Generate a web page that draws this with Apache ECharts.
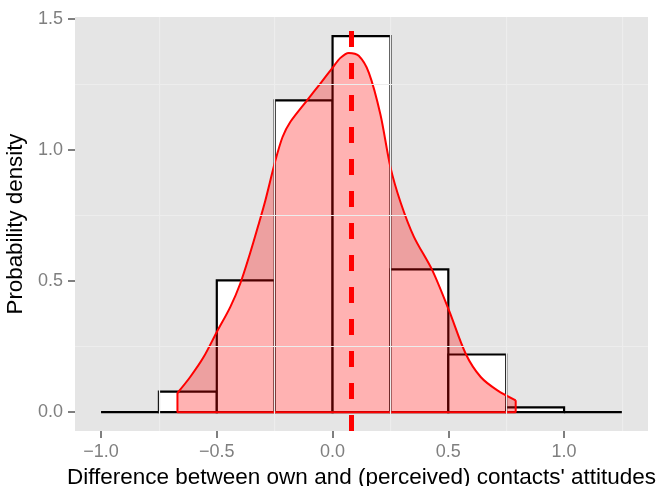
<!DOCTYPE html>
<html>
<head>
<meta charset="utf-8">
<script src="https://cdn.jsdelivr.net/npm/echarts@6/dist/echarts.min.js"></script>
<style>html,body{margin:0;padding:0;background:#fff}#c{width:659px;height:486px}</style>
</head>
<body>
<div id="c"></div>
<script>
// Histogram bins (lower edge, upper edge) and densities
var binLo = [-1.0, -0.75, -0.5, -0.25, 0.0, 0.25, 0.5, 0.75, 1.0];
var binHi = [-0.75, -0.5, -0.25, 0.0, 0.25, 0.5, 0.75, 1.0, 1.25];
var binDensity = [0, 0.078, 0.503, 1.19, 1.435, 0.545, 0.22, 0.018, 0];

// Kernel density estimate
var densX = [-0.670, -0.615, -0.557, -0.500, -0.442, -0.399, -0.355, -0.320, -0.290, -0.247,
             -0.216, -0.182, -0.110, -0.053, -0.002, 0.034, 0.070, 0.113, 0.157, 0.207, 0.250,
             0.294, 0.351, 0.431, 0.503, 0.575, 0.640, 0.712, 0.791];
var densY = [0.073, 0.134, 0.210, 0.306, 0.401, 0.490, 0.610, 0.715, 0.809, 0.960,
             1.050, 1.108, 1.190, 1.254, 1.312, 1.352, 1.371, 1.360, 1.295, 1.135, 0.935,
             0.800, 0.670, 0.541, 0.388, 0.223, 0.134, 0.083, 0.045];

// Mean marker (dashed vertical line)
var meanX = 0.083;

// Axis ticks
var xTicks = [-1.0, -0.5, 0.0, 0.5, 1.0];
var yTicks = [0.0, 0.5, 1.0, 1.5];
var xMinor = [-0.75, -0.25, 0.25, 0.75, 1.25];
var yMinor = [0.25, 0.75, 1.25];

var xMin = -1.1125, xMax = 1.3625, yMin = -0.072, yMax = 1.508;

function fmt(v) {
  var s = Math.abs(v).toFixed(1);
  return (v < 0 ? '\u2212' : '') + s;
}

var histData = binLo.map(function (lo, i) { return [lo, binHi[i], binDensity[i]]; });
var curveData = densX.map(function (x, i) { return [x, densY[i]]; });
var edgeData = [[densX[0], densY[0]], [densX[0], 0], [densX[densX.length - 1], 0],
                [densX[densX.length - 1], densY[densY.length - 1]]];

var gridColor = '#EDEDED';
var font = '"Liberation Sans", Arial, sans-serif';

var chart = echarts.init(document.getElementById('c'), null, {renderer: 'canvas'});
chart.setOption({
  animation: false,
  backgroundColor: '#ffffff',
  grid: {left: 75, right: 11, top: 17, bottom: 55, show: true, backgroundColor: '#E5E5E5', borderWidth: 0,
         containLabel: false, outerBoundsMode: 'none'},
  xAxis: {
    type: 'value', min: xMin, max: xMax,
    name: "Difference between own and (perceived) contacts' attitudes",
    nameLocation: 'middle', nameGap: 27,
    nameTextStyle: {fontFamily: font, fontSize: 22.5, color: '#000'},
    axisLine: {show: false, onZero: false},
    axisTick: {show: true, customValues: xTicks, length: 7, lineStyle: {color: '#7F7F7F', width: 2}},
    axisLabel: {customValues: xTicks, formatter: fmt, fontFamily: font, fontSize: 18, color: '#7F7F7F', margin: 12},
    splitLine: {show: false}
  },
  yAxis: {
    type: 'value', min: yMin, max: yMax,
    name: 'Probability density', nameLocation: 'middle', nameGap: 37, nameRotate: 90,
    nameTextStyle: {fontFamily: font, fontSize: 22.3, color: '#000'},
    axisLine: {show: false, onZero: false},
    axisTick: {show: true, customValues: yTicks, length: 7, lineStyle: {color: '#7F7F7F', width: 2}},
    axisLabel: {customValues: yTicks, formatter: fmt, fontFamily: font, fontSize: 18, color: '#7F7F7F', margin: 12},
    splitLine: {show: false}
  },
  series: [
    {
      type: 'line', data: [], silent: true, z: 1,
      markLine: {
        silent: true, symbol: 'none', label: {show: false},
        lineStyle: {color: gridColor, width: 1.2, type: 'solid'},
        data: xMinor.map(function (v) { return {xAxis: v}; }).concat(yMinor.map(function (v) { return {yAxis: v}; }))
      }
    },
    {
      type: 'custom', z: 2, data: histData,
      renderItem: function (params, api) {
        var lo = api.value(0), hi = api.value(1), h = api.value(2);
        var p0 = api.coord([lo, 0]);
        var p1 = api.coord([hi, h]);
        if (h === 0) {
          return {type: 'line', shape: {x1: p0[0], y1: p0[1], x2: p1[0], y2: p0[1]},
                  style: {stroke: '#000', lineWidth: 2.2}};
        }
        return {type: 'rect', shape: {x: p0[0], y: p1[1], width: p1[0] - p0[0], height: p0[1] - p1[1]},
                style: {fill: '#FFFFFF', stroke: '#000', lineWidth: 2.2}};
      },
      encode: {x: [0, 1], y: 2}
    },
    {
      type: 'line', z: 3, data: curveData, smooth: 0.3, symbol: 'none',
      lineStyle: {color: '#FF0000', width: 2},
      areaStyle: {color: '#FF0000', opacity: 0.3, origin: 0}
    },
    {
      type: 'line', z: 4, data: edgeData, smooth: false, symbol: 'none',
      lineStyle: {color: '#FF0000', width: 2}
    },
    {
      type: 'line', data: [], z: 5,
      markLine: {
        silent: true, symbol: 'none', label: {show: false},
        lineStyle: {color: '#FF0000', width: 5, type: [16, 16]},
        data: [{xAxis: meanX}]
      }
    }
  ]
});
</script>
</body>
</html>
